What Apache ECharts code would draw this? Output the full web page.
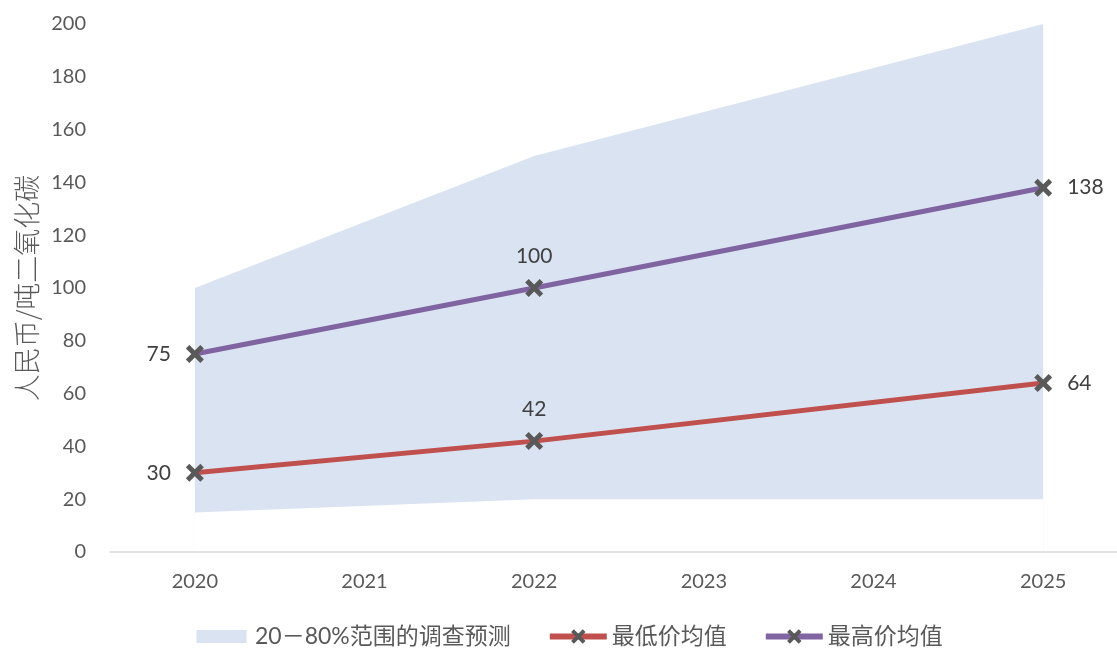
<!DOCTYPE html>
<html><head><meta charset="utf-8">
<script src="https://cdn.jsdelivr.net/npm/echarts@6/dist/echarts.min.js"></script>
<style>html,body{margin:0;padding:0;background:#fff}#c{width:1117px;height:648px}</style>
</head><body><div id="c"></div>
<script>
var years = ['2020','2021','2022','2023','2024','2025'];
var bandLow = [15, null, 20, null, null, 20];
var bandHigh = [100, null, 150, null, null, 200];
var minAvg = [30, null, 42, null, null, 64];
var maxAvg = [75, null, 100, null, null, 138];
var labelPos = ['left', null, 'top', null, null, 'right'];
var yTicks = {min: 0, max: 200, interval: 20};
var names = {band: '20－80%范围的调查预测', min: '最低价均值', max: '最高价均值', yName: '人民币/吨二氧化碳'};

var FONT = 'Lato, "Noto Sans CJK SC", sans-serif';
var X = 'path://M0,3.5 L3.5,0 L9,5.5 L14.5,0 L18,3.5 L12.5,9 L18,14.5 L14.5,18 L9,12.5 L3.5,18 L0,14.5 L5.5,9 Z';
function labeled(arr){
  return arr.map(function(v, i){
    if (v == null) return null;
    return {value: v, label: {position: labelPos[i], distance: labelPos[i]==='top' ? 12 : 15}};
  });
}
var lineLabel = {show: true, color: '#404040', fontSize: 21, fontFamily: FONT};
var chart = echarts.init(document.getElementById('c'));
chart.setOption({
  animation: false,
  grid: {left: 110, top: 24, width: 1018, height: 528, outerBoundsMode: 'none', containLabel: false},
  legend: {
    top: 620, left: 188, itemGap: 36, itemWidth: 57, itemHeight: 18,
    textStyle: {fontSize: 23, color: '#595959', fontFamily: FONT},
    data: [
      {name: names.band, icon: 'path://M0,0H50V13H0Z M-3.5,6.5h0.01 M53.5,6.5h0.01'},
      {name: names.min, lineStyle: {width: 6}},
      {name: names.max, lineStyle: {width: 6}}
    ]
  },
  xAxis: {
    type: 'category', data: years, boundaryGap: true, z: 10,
    axisLine: {lineStyle: {color: '#d9d9d9', width: 1.5}},
    axisTick: {show: false},
    axisLabel: {fontSize: 20, color: '#595959', fontFamily: FONT, margin: 20},
    splitLine: {show: false}
  },
  yAxis: {
    type: 'value', min: yTicks.min, max: yTicks.max, interval: yTicks.interval,
    name: names.yName, nameLocation: 'middle', nameGap: 70, nameRotate: 90,
    nameTextStyle: {fontSize: 27, color: '#595959', fontFamily: '"Noto Sans CJK SC", sans-serif', fontWeight: 300},
    axisLine: {show: false}, axisTick: {show: false}, splitLine: {show: false},
    axisLabel: {fontSize: 20, color: '#595959', fontFamily: FONT, margin: 24}
  },
  series: [
    {name: names.band, type: 'line', data: bandHigh, connectNulls: true,
     symbol: 'none', lineStyle: {width: 0}, itemStyle: {color: '#dae3f1'},
     areaStyle: {color: '#dae3f1', opacity: 1, origin: 'start'}, z: 1},
    {name: 'low', type: 'line', data: bandLow, connectNulls: true,
     symbol: 'none', lineStyle: {width: 0}, itemStyle: {color: '#ffffff'},
     areaStyle: {color: '#ffffff', opacity: 1, origin: 'start'}, silent: true, z: 1},
    {name: names.min, type: 'line', data: labeled(minAvg), connectNulls: true,
     symbol: X, symbolSize: 18, itemStyle: {color: '#595959'},
     lineStyle: {color: '#c0504d', width: 5}, label: lineLabel, z: 3},
    {name: names.max, type: 'line', data: labeled(maxAvg), connectNulls: true,
     symbol: X, symbolSize: 18, itemStyle: {color: '#595959'},
     lineStyle: {color: '#8064a2', width: 5}, label: lineLabel, z: 3}
  ]
});
</script></body></html>
